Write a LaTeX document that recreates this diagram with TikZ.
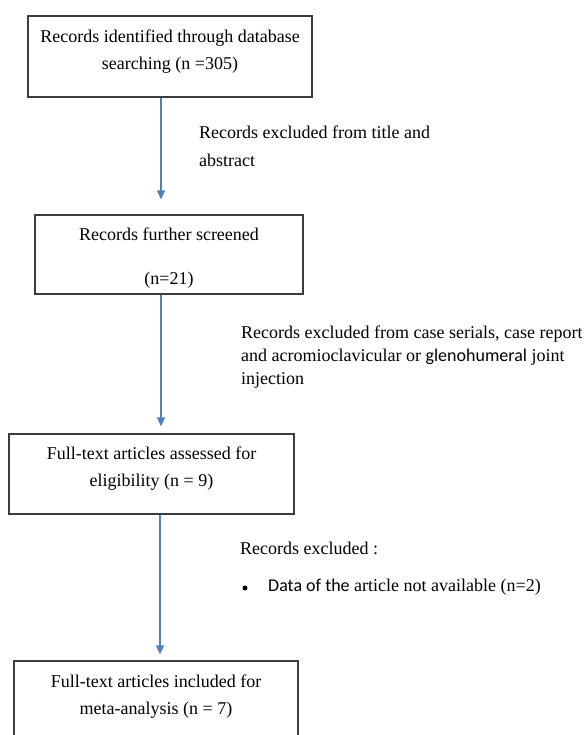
\documentclass[tikz,border=0pt]{standalone}
\usepackage{fontspec}
\setmainfont{Liberation Serif}
\newfontfamily\carlitofont{Carlito}
\usetikzlibrary{arrows.meta,calc}
\definecolor{arrowblue}{RGB}{79,129,189}
\definecolor{boxgray}{RGB}{60,60,60}
\tikzset{
  boxnode/.style={draw=boxgray, line width=1.2pt, rectangle, inner sep=0pt},
  boxtext/.style={align=center, inner sep=0pt, font=\fontsize{18}{27}\selectfont},
  sidetext/.style={align=left, inner sep=0pt, anchor=west},
  bulletdot/.style={circle, fill=black, inner sep=0pt, minimum size=5pt},
  arr/.style={draw=arrowblue, line width=1.3pt, -{Triangle[length=9pt,width=8pt]}}
}
\begin{document}
\begin{tikzpicture}[x=1pt,y=-1pt]
\clip (0,0) rectangle (586,735);
\fill[white] (0,0) rectangle (586,735);

% boxes
\node[boxnode, minimum width=284pt, minimum height=81pt] (b1) at (170,56.5) {};
\node[boxtext] (t1) at (170,51.5) {Records identified through database\\searching (n =305)};

\node[boxnode, minimum width=268pt, minimum height=79pt] (b2) at (169,254.5) {};
\node[boxtext] (t2) at (169,258) {Records further screened\\[17pt](n=21)};

\node[boxnode, minimum width=285pt, minimum height=80pt] (b3) at (151.5,474) {};
\node[boxtext] (t3) at (151.5,469) {Full-text articles assessed for\\eligibility (n = 9)};

\node[boxnode, minimum width=284pt, minimum height=84pt] (b4) at (156,703) {};
\node[boxtext] (t4) at (156,696.5) {Full-text articles included for\\meta-analysis (n = 7)};

% arrow x positions
\coordinate (x1) at (161,0);
\coordinate (x2) at (161,0);
\coordinate (x3) at (160,0);

\draw[arr, shorten >=15pt] (b1.south -| x1) -- (b2.north -| x1);
\draw[arr, shorten >=7pt] (b2.south -| x2) -- (b3.north -| x2);
\draw[arr, shorten >=6pt] (b3.south -| x3) -- (b4.north -| x3);

% side labels
\node[sidetext, font=\fontsize{18}{28}\selectfont] (l1) at (199,146)
  {Records excluded from title and\\abstract};
\node[sidetext, font=\fontsize{18}{23}\selectfont] (l2) at (241,357.5)
  {Records excluded from case serials, case report\\and acromioclavicular or {\carlitofont glenohumeral} joint\\injection};
\node[sidetext, font=\fontsize{18}{23}\selectfont] (l3) at (240,548) {Records excluded :};
\node[bulletdot] (bul) at (245,588) {};
\node[sidetext, font=\fontsize{18}{23}\selectfont] (l4) at (268,587)
  {{\carlitofont Data of the} article not available (n=2)};
\end{tikzpicture}
\end{document}
